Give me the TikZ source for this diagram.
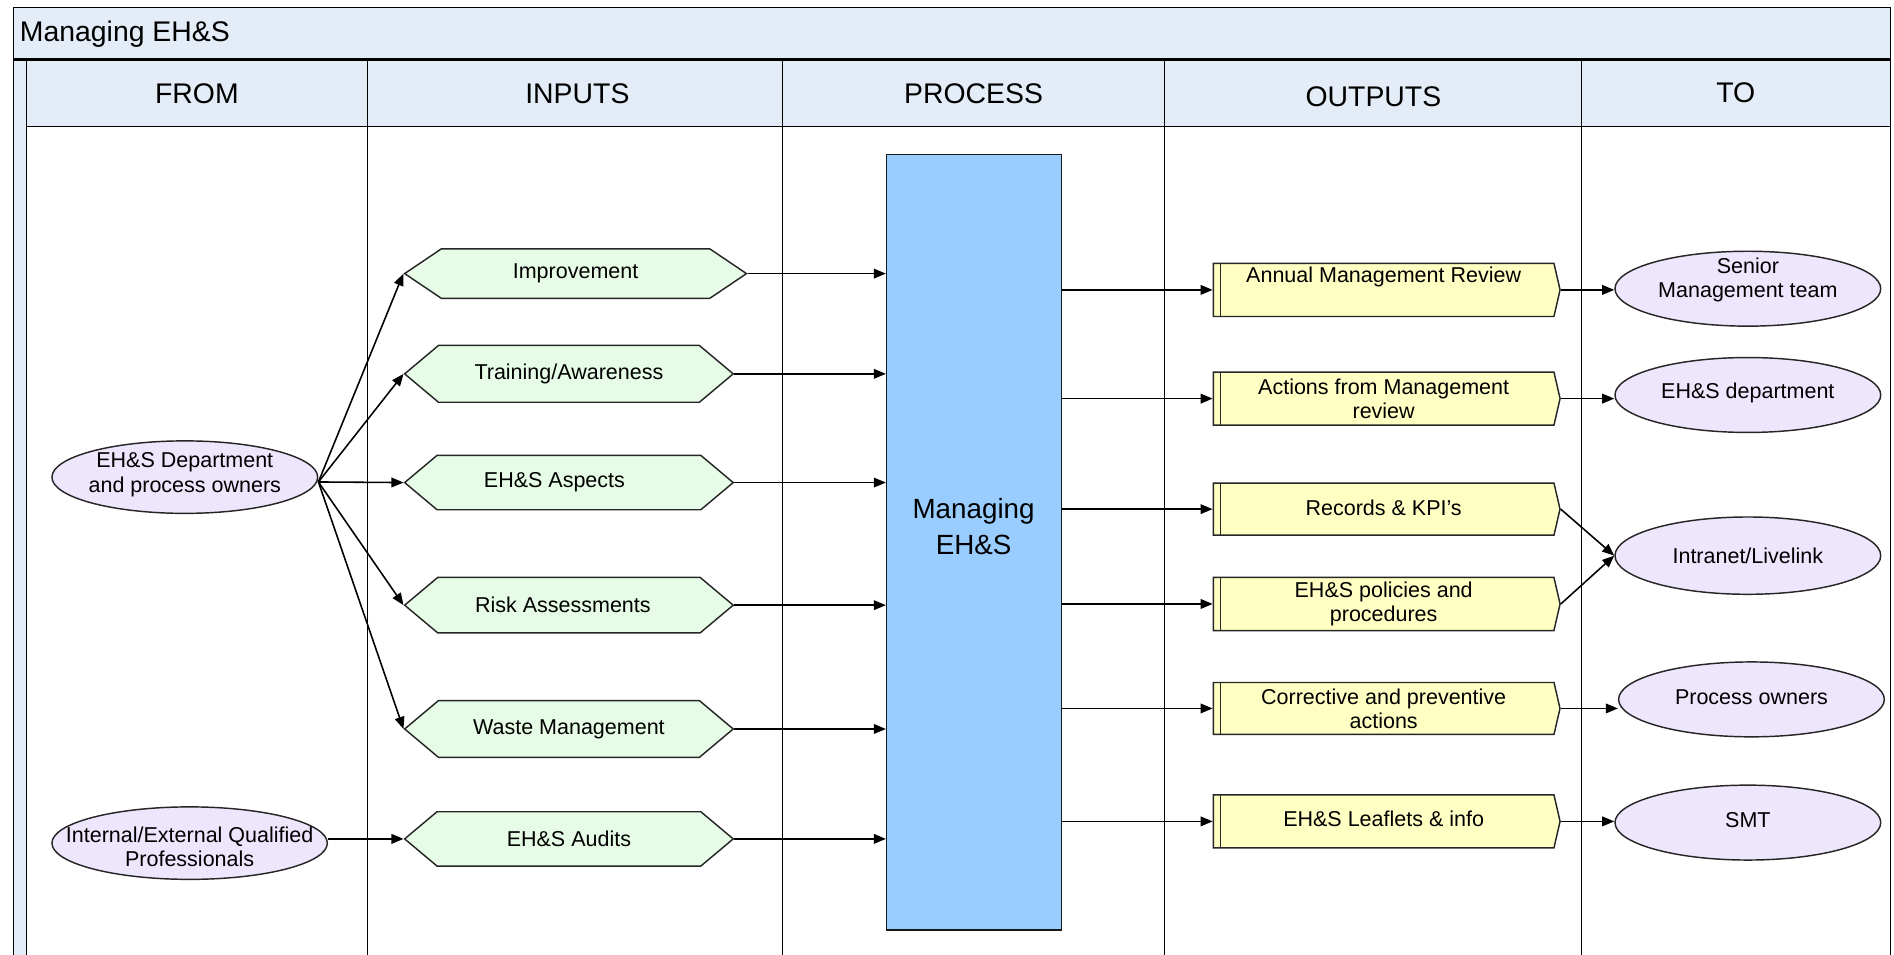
\documentclass[tikz,border=0pt]{standalone}
\usepackage{fontspec}
\setmainfont{Liberation Sans}
\usetikzlibrary{shapes.geometric,shapes.symbols,arrows.meta}
\definecolor{band}{HTML}{E4ECF8}
\definecolor{hexfill}{HTML}{E6FCE6}
\definecolor{outfill}{HTML}{FFFFC4}
\definecolor{ellfill}{HTML}{EEE6FC}
\definecolor{procfill}{HTML}{99CCFF}
\begin{document}
\begin{tikzpicture}[x=1pt,y=-1pt,
  lane/.style={draw=black,line width=1.1pt},
  hdr/.style={font=\fontsize{23.5}{27}\selectfont},
  body/.style={font=\fontsize{17.8}{20}\selectfont,align=center,inner sep=0pt},
  hexa/.style={shape=signal,signal to=west and east,signal pointer angle=80,
    draw=black!85,line width=1.2pt,fill=hexfill,minimum width=272pt,minimum height=46pt,inner sep=0pt},
  outbox/.style={shape=signal,signal to=east,signal pointer angle=154,
    draw=black!85,line width=1.2pt,fill=outfill,minimum width=287pt,minimum height=44pt,inner sep=0pt,
    path picture={\draw[line width=1pt,black!85] ([xshift=6pt]path picture bounding box.north west) -- ([xshift=6pt]path picture bounding box.south west);}},
  ell/.style={ellipse,draw=black!85,line width=1.2pt,fill=ellfill,inner sep=0pt,minimum width=220pt,minimum height=62pt},
  conn/.style={-{Triangle[length=10pt,width=8pt]},line width=1.3pt,black},
]
\useasboundingbox (0,0) rectangle (1568,790);
\fill[white] (0,0) rectangle (1568,790);
\begin{scope}
\clip (0,0) rectangle (1568,790);
\draw[fill=band,line width=1.1pt] (11,6) rectangle (1565,49);
\draw[fill=band,line width=1.1pt] (11,49) rectangle (22,800);
\draw[fill=band,line width=1.1pt] (22,50) rectangle (1565,105);
\draw[line width=2.2pt] (11,49) -- (1565,49);
\foreach \x in {304,648,964,1309} \draw[lane] (\x,50) -- (\x,800);
\draw[lane] (1565,6) -- (1565,800);
\end{scope}
\node[anchor=west,hdr] (title) at (13,28) {Managing EH\&S};
\node[hdr] (hfrom) at (163,78) {FROM};
\node[hdr] (hin) at (478,78) {INPUTS};
\node[hdr] (hproc) at (806,78) {PROCESS};
\node[hdr] (hout) at (1137,80) {OUTPUTS};
\node[hdr] (hto) at (1437,77) {TO};

% sources
\node[ell,minimum height=60pt,label={[body,yshift=2pt]center:EH\&S Department\\and process owners}] (src1) at (153,395) {};
\node[ell,minimum width=228pt,minimum height=60pt,label={[body,yshift=-3pt]center:Internal/External Qualified\\Professionals}] (src2) at (157,698) {};
\coordinate (src1out) at ([yshift=-4pt]src1.east);

% inputs
\node[hexa,minimum width=283pt,minimum height=41pt,signal pointer angle=68,label={[body]center:Improvement}] (in1) at (476.5,226.5) {};
\node[hexa,minimum height=47pt,label={[body]center:Training/Awareness}] (in2) at (471,309.5) {};
\node[hexa,minimum height=45pt,label={[body,xshift=-12pt]center:EH\&S Aspects}] (in3) at (471,399.5) {};
\node[hexa,minimum height=46pt,label={[body,xshift=-5pt]center:Risk Assessments}] (in4) at (471,501) {};
\node[hexa,minimum height=47pt,label={[body]center:Waste Management}] (in5) at (471,603.5) {};
\node[hexa,minimum height=45pt,label={[body]center:EH\&S Audits}] (in6) at (471,694.5) {};

% process
\node[draw=black!90,line width=1.2pt,fill=procfill,minimum width=145pt,minimum height=642pt,inner sep=0pt] (proc) at (806.5,449) {};
\node[font=\fontsize{23}{30}\selectfont,align=center] (proctext) at (806,436) {Managing\\EH\&S};

% outputs
\node[outbox,label={[body,yshift=11pt]center:Annual Management Review}] (out1) at (1145.5,240) {};
\node[outbox,label={[body]center:Actions from Management\\review}] (out2) at (1145.5,330) {};
\node[outbox,minimum height=43pt,label={[body,yshift=1pt]center:Records \& KPI's}] (out3) at (1145.5,421.5) {};
\node[outbox,label={[body]center:EH\&S policies and\\procedures}] (out4) at (1145.5,500) {};
\node[outbox,minimum height=43pt,label={[body]center:Corrective and preventive\\actions}] (out5) at (1145.5,586.5) {};
\node[outbox,label={[body,yshift=2pt]center:EH\&S Leaflets \& info}] (out6) at (1145.5,680) {};

% destinations
\node[ell,label={[body,yshift=7pt]center:Senior\\Management team}] (dst1) at (1447,239) {};
\node[ell,label={[body,yshift=2pt]center:EH\&S department}] (dst2) at (1447,327) {};
\node[ell,minimum height=64pt,label={[body]center:Intranet/Livelink}] (dst3) at (1447,460) {};
\node[ell,label={[body,yshift=2pt]center:Process owners}] (dst4) at (1450,579) {};
\node[ell,label={[body,yshift=2pt]center:SMT}] (dst5) at (1447,681) {};

% connectors
\foreach \i in {1,...,5} \draw[conn] (src1out) -- (in\i.west);
\draw[conn] (src2.east |- in6.west) -- (in6.west);
\foreach \i in {1,...,6} \draw[conn] (in\i.east) -- (in\i.east -| proc.west);
\foreach \i in {1,...,6} \draw[conn] (proc.east |- out\i.west) -- (out\i.west);
\draw[conn] (out1.east) -- (out1.east -| dst1.west);
\draw[conn] (out2.east) -- (out2.east -| dst2.west);
\draw[conn] (out3.east) -- (dst3.west);
\draw[conn] (out4.east) -- (dst3.west);
\draw[conn] (out5.east) -- (out5.east -| dst4.west);
\draw[conn] (out6.east) -- (out6.east -| dst5.west);
\end{tikzpicture}
\end{document}
